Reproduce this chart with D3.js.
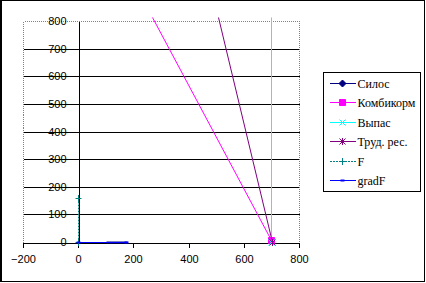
<!DOCTYPE html>
<html>
<head>
<meta charset="utf-8">
<script src="https://cdn.jsdelivr.net/npm/d3@7"></script>
<style>
  body { margin: 0; background: #fff; }
  svg { display: block; }
</style>
</head>
<body>
<div class="chart"></div>
<script>
"use strict";
(function(){

//series names, same order as the legend
var seriesNames = ['Силос', 'Комбикорм', 'Выпас', 'Труд. рес.', 'F', 'gradF'];

//points of each series
var silosX = [100, 175];
var silosY = [0, 0];
var kombikormX = [266, 700];
var kombikormY = [815, 7];
var vypasX = [700, 700];
var vypasY = [815, 0];
var trudX = [508, 703];
var trudY = [815, 0];
var fX = [0, 0];
var fY = [0, 160];
var gradX = [0, 172];
var gradY = [0, 1];

//axis ticks
var xTicks = [-200, 0, 200, 400, 600, 800];
var yTicks = [0, 100, 200, 300, 400, 500, 600, 700, 800];

var width = 426;
var height = 283;

var colors = ['#000080', '#ff00ff', '#00ffff', '#800080', '#008080', '#0000ff'];
var markers = ['diamond', 'square', 'cross', 'star', 'plus', 'dash'];
//silos markers are not visible in the plot, only in the legend
var plotMarkers = [false, true, true, true, true, true];

var xs = [silosX, kombikormX, vypasX, trudX, fX, gradX];
var ys = [silosY, kombikormY, vypasY, trudY, fY, gradY];

var series = seriesNames.map(function(name, i){
  return {
    name: name,
    color: colors[i],
    marker: markers[i],
    showMarkers: plotMarkers[i],
    points: xs[i].map(function(x, j){ return {x: x, y: ys[i][j]} })
  }
});

var x = d3.scaleLinear().domain([-200, 800]).range([23.5, 299.5]);
var y = d3.scaleLinear().domain([0, 800]).range([242.5, 21.5]);

//snap to pixel centres so 1px lines stay sharp
var px = function(v){ return Math.floor(v) + 0.5 };

var svg = d3.select('.chart')
            .append('svg')
            .attr('width', width)
            .attr('height', height);

//outer frame of the chart
svg.append('rect')
   .attr('x', 0.5).attr('y', 0.5)
   .attr('width', 424).attr('height', 281)
   .attr('fill', 'none')
   .attr('stroke', '#000');
svg.append('line')
   .attr('x1', 1.5).attr('x2', 1.5)
   .attr('y1', 0).attr('y2', 282)
   .attr('stroke', '#000');

var x0 = px(x(-200)), x1 = px(x(800));
var yTop = px(y(800)), yBottom = px(y(0));

//gridlines
svg.append('g')
   .selectAll('line')
   .data(yTicks.filter(function(t){ return t > 0 && t < 800 }))
   .enter().append('line')
   .attr('x1', x0).attr('x2', x1)
   .attr('y1', function(t){ return px(y(t)) })
   .attr('y2', function(t){ return px(y(t)) })
   .attr('stroke', '#000')
   .attr('shape-rendering', 'crispEdges');

//dotted plot border
svg.append('path')
   .attr('d', 'M' + x0 + ',' + yBottom + 'V' + yTop + 'H' + x1 + 'V' + yBottom)
   .attr('fill', 'none')
   .attr('stroke', '#808080')
   .attr('stroke-dasharray', '1,1')
   .attr('shape-rendering', 'crispEdges');

//x axis along y = 0
var xAxis = d3.axisBottom(x)
              .tickValues(xTicks)
              .tickSizeInner(5)
              .tickSizeOuter(0)
              .tickPadding(8);
var gx = svg.append('g')
            .attr('transform', 'translate(0,' + yBottom + ')')
            .call(xAxis);
gx.select('.domain').attr('stroke', '#000').attr('shape-rendering', 'crispEdges');
gx.selectAll('.tick').attr('transform', function(t){ return 'translate(' + px(x(t)) + ',0)' });
gx.selectAll('.tick line').attr('stroke', '#000').attr('shape-rendering', 'crispEdges');
gx.selectAll('text')
  .attr('font-family', 'Arial, "Liberation Sans", sans-serif')
  .attr('font-size', 11)
  .attr('fill', '#000');

//y axis along x = 0
var yAxis = d3.axisLeft(y)
              .tickValues(yTicks)
              .tickSizeInner(0)
              .tickSizeOuter(0)
              .tickPadding(12);
var gy = svg.append('g')
            .attr('transform', 'translate(' + px(x(0)) + ',0)')
            .call(yAxis);
gy.select('.domain').attr('stroke', '#000').attr('shape-rendering', 'crispEdges');
gy.selectAll('.tick').attr('transform', function(t){ return 'translate(0,' + px(y(t)) + ')' });
gy.selectAll('text')
  .attr('font-family', 'Arial, "Liberation Sans", sans-serif')
  .attr('font-size', 11)
  .attr('fill', '#000');

//marker shapes, centred on 0,0
var markerPath = function(kind){
  switch (kind){
    case 'diamond': return 'M0,-3.5L3.5,0L0,3.5L-3.5,0Z'
    case 'square': return 'M-3,-3H3V3H-3Z'
    case 'cross': return 'M-3,-3L3,3M-3,3L3,-3'
    case 'star': return 'M-3,-3L3,3M-3,3L3,-3M0,-3.5V3.5'
    case 'plus': return 'M0,-3.5V3.5M-3,0H3'
    case 'dash': return 'M-2,0H2'
  }
}
var filled = function(kind){ return kind === 'diamond' || kind === 'square' };

var line = d3.line()
             .x(function(d){ return px(x(d.x)) })
             .y(function(d){ return px(y(d.y)) });

var plot = svg.append('g');

series.forEach(function(s){
  plot.append('path')
      .datum(s.points)
      .attr('d', line)
      .attr('fill', 'none')
      .attr('stroke', s.color)
      .attr('stroke-width', s.name === 'Силос' ? 2 : 1)
      .attr('stroke-dasharray', s.name === 'F' ? '2,1' : null);

  if (!s.showMarkers) return;
  plot.selectAll(null)
      .data(s.points.filter(function(d){ return d.y <= 800 }))
      .enter().append('path')
      .attr('transform', function(d){ return 'translate(' + px(x(d.x)) + ',' + px(y(d.y)) + ')' })
      .attr('d', markerPath(s.marker))
      .attr('fill', filled(s.marker) ? s.color : 'none')
      .attr('stroke', s.color)
      .attr('stroke-width', s.marker === 'dash' ? 2 : 1);
});

//legend
var legend = svg.append('g').attr('transform', 'translate(323.5,72.5)');
legend.append('rect')
      .attr('width', 97).attr('height', 119)
      .attr('fill', '#fff')
      .attr('stroke', '#000');

var items = legend.selectAll('.item')
                  .data(series)
                  .enter().append('g')
                  .attr('class', 'item')
                  .attr('transform', function(d, i){ return 'translate(0,' + Math.round(11 + i * 19.4) + ')' });

items.append('line')
     .attr('x1', 6).attr('x2', 32)
     .attr('stroke', function(d){ return d.color })
     .attr('stroke-dasharray', function(d){ return d.name === 'F' ? '2,1' : null })
     .attr('shape-rendering', 'crispEdges');
items.append('path')
     .attr('transform', 'translate(19,0)')
     .attr('d', function(d){ return markerPath(d.marker) })
     .attr('fill', function(d){ return filled(d.marker) ? d.color : 'none' })
     .attr('stroke', function(d){ return d.color })
     .attr('stroke-width', function(d){ return d.marker === 'dash' ? 2 : 1 });
items.append('text')
     .attr('x', 34)
     .attr('dy', '0.35em')
     .attr('font-family', '"Liberation Serif", serif')
     .attr('font-size', 12)
     .text(function(d){ return d.name });

})();
</script>
</body>
</html>
